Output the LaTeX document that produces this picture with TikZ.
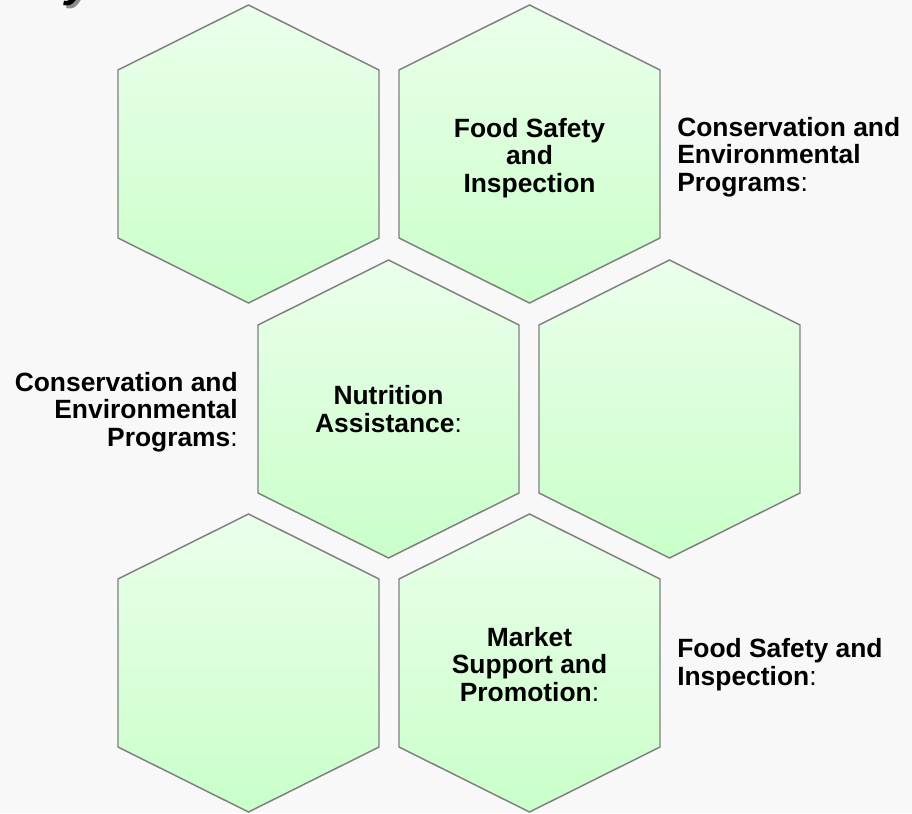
\documentclass[tikz,border=0pt]{standalone}
\usepackage{fontspec}
\setmainfont{Liberation Sans}
\definecolor{pagebg}{HTML}{F8F8F8}
\definecolor{hexline}{HTML}{7F7F7F}
\definecolor{hextop}{HTML}{EBFFEB}
\definecolor{hexbottom}{HTML}{C9FFC9}
\definecolor{shadowgray}{HTML}{8C8C8C}
\tikzset{
  hexcell/.style={draw=hexline, line width=1.1pt, top color=hextop, bottom color=hexbottom},
  hexlabel/.style={font=\fontsize{19.8}{20.8}\selectfont\bfseries, align=center, inner sep=0pt},
  sidelabel/.style={hexlabel},
  titlechar/.style={font=\fontsize{34}{40}\selectfont\bfseries\itshape, inner sep=0pt}
}
\newcommand{\plaincolon}{{\mdseries:}}
\begin{document}
\begin{tikzpicture}[x=0.75pt,y=-0.75pt]
\fill[pagebg] (0,0) rectangle (912,813);
\clip (0,0) rectangle (912,813);

% cut-off title
\node[titlechar, text=shadowgray, anchor=base west] (ttlshadow) at (68,0) {y};
\node[titlechar, anchor=base west] (ttl) at (65,-3) {y};

% hexagon cells
\foreach \cx/\cy/\nm in {248.5/154/hexA, 529.5/154/hexB,
                         388.5/409/hexC, 669.5/409/hexD,
                         248.5/663/hexE, 529.5/663/hexF}
{
  \path[hexcell] (\cx,\cy-149) -- (\cx+130.5,\cy-84) -- (\cx+130.5,\cy+84)
                 -- (\cx,\cy+149) -- (\cx-130.5,\cy+84) -- (\cx-130.5,\cy-84) -- cycle;
  \coordinate (\nm) at (\cx,\cy);
}

% texts in cells
\node[hexlabel] (foodtxt)   at ([yshift=-3]hexB) {Food Safety\\and\\Inspection};
\node[hexlabel] (nutrtxt)   at (hexC)            {Nutrition\\Assistance\plaincolon};
\node[hexlabel] (markettxt) at ([yshift=-1]hexF) {Market\\Support and\\Promotion\plaincolon};

% texts beside cells
\node[sidelabel, align=left,  anchor=west] (consright) at (677,157) {Conservation and\\Environmental\\Programs\plaincolon};
\node[sidelabel, align=right, anchor=east] (consleft)  at (238,412) {Conservation and\\Environmental\\Programs\plaincolon};
\node[sidelabel, align=left,  anchor=west] (foodright) at (677,665) {Food Safety and\\Inspection\plaincolon};
\end{tikzpicture}
\end{document}
